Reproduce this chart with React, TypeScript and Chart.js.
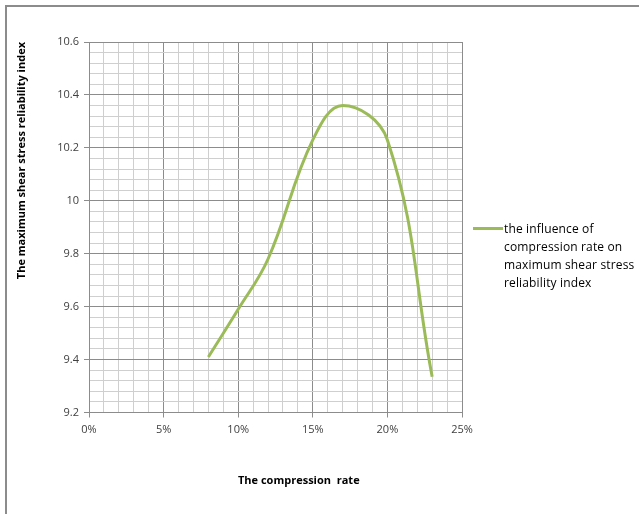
import React, { useEffect, useRef } from 'react';
import { Chart, registerables } from 'chart.js';

Chart.register(...registerables);

const compressionRates = [0.08, 0.10, 0.12, 0.15, 0.17, 0.20, 0.23];
const reliabilityIndex = [9.41, 9.59, 9.78, 10.23, 10.36, 10.23, 9.335];
const seriesLabelLines = ['the influence of', 'compression rate on', 'maximum shear stress', 'reliability index'];
const xTitle = 'The compression  rate';
const yTitle = 'The maximum shear stress reliability index';

const MAJOR = '#8c8c8c';
const MINOR = '#cfcfcf';
const LINE = '#9bbb59';
const FONT = "'Open Sans', 'DejaVu Sans', sans-serif";

export default function App() {
  const ref = useRef<HTMLCanvasElement | null>(null);

  useEffect(() => {
    if (!ref.current) return;
    const chart = new Chart(ref.current, {
      type: 'line',
      data: {
        datasets: [
          {
            label: seriesLabelLines.join(' '),
            data: compressionRates.map((x, i) => ({ x, y: reliabilityIndex[i] })),
            borderColor: LINE,
            borderWidth: 3,
            pointRadius: 0,
            tension: 0.4,
            fill: false,
          },
        ],
      },
      options: {
        responsive: false,
        animation: false,
        layout: { padding: { left: 0, top: 42, right: 177, bottom: 0 } },
        plugins: { legend: { display: false }, tooltip: { enabled: false } },
        scales: {
          x: {
            type: 'linear',
            min: 0,
            max: 0.25,
            afterFit: (s: any) => { s.height = 101.5; },
            ticks: {
              stepSize: 0.01,
              autoSkip: false,
              maxRotation: 0,
              padding: 6,
              color: '#404040',
              font: { family: FONT, size: 11 },
              callback: (v: any, i: number) => (i % 5 === 0 ? Math.round(Number(v) * 100) + '%' : ''),
            },
            grid: {
              color: (c: any) => (c.index % 5 === 0 ? MAJOR : MINOR),
              tickColor: (c: any) => (c.index % 5 === 0 ? MAJOR : 'rgba(0,0,0,0)'),
              tickLength: 5,
              lineWidth: 1,
            },
            border: { color: MAJOR },
          },
          y: {
            type: 'linear',
            min: 9.2,
            max: 10.6,
            afterFit: (s: any) => { s.width = 89; },
            ticks: {
              stepSize: 0.04,
              autoSkip: false,
              padding: 5,
              color: '#404040',
              font: { family: FONT, size: 11 },
              callback: (v: any, i: number) => (i % 5 === 0 ? String(Number(Number(v).toFixed(1))) : ''),
            },
            grid: {
              color: (c: any) => (c.index % 5 === 0 ? MAJOR : MINOR),
              tickColor: (c: any) => (c.index % 5 === 0 ? MAJOR : 'rgba(0,0,0,0)'),
              tickLength: 5,
              lineWidth: 1,
            },
            border: { color: MAJOR },
            title: {
              display: true,
              text: yTitle,
              align: 'end',
              color: '#000',
              font: { family: FONT, size: 11, weight: 'bold' },
              padding: { top: 15, bottom: 0 },
            },
          },
        },
      },
    });
    return () => chart.destroy();
  }, []);

  return (
    <div style={{ position: 'fixed', left: 0, top: 0, width: 639, height: 514, overflow: 'hidden', background: '#fff' }}>
      <div style={{ position: 'absolute', left: 5, top: 5, width: 700, height: 600, border: '2px solid #8c8c8c' }} />
      <canvas ref={ref} width={639} height={514} style={{ position: 'absolute', left: 0, top: 0 }} />
      <div style={{ position: 'absolute', left: 238, top: 472, fontFamily: FONT, fontSize: 11, fontWeight: 'bold', color: '#000', whiteSpace: 'pre' }}>
        {xTitle}
      </div>
      <div style={{ position: 'absolute', left: 473, top: 227, width: 30, height: 3, background: LINE }} />
      <div style={{ position: 'absolute', left: 504, top: 220, fontFamily: FONT, fontSize: 12, letterSpacing: '0.15px', lineHeight: '18px', color: '#000', whiteSpace: 'nowrap' }}>
        {seriesLabelLines.map((t) => (
          <div key={t}>{t}</div>
        ))}
      </div>
    </div>
  );
}
